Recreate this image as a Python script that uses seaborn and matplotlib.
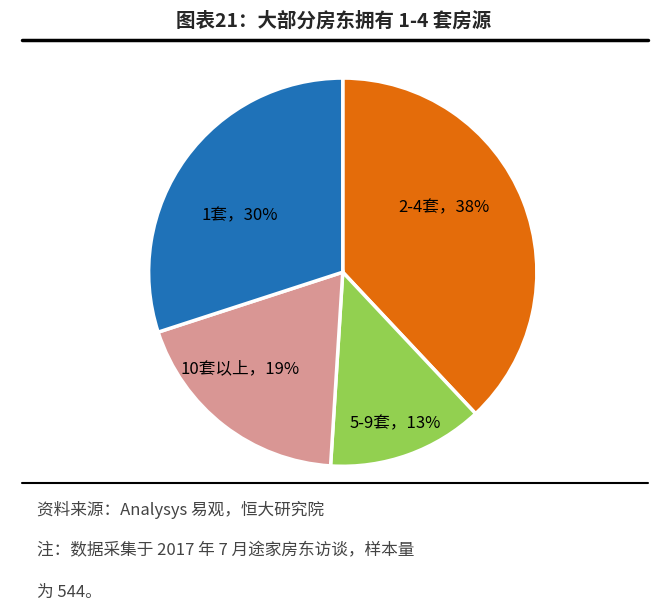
import matplotlib
matplotlib.use("Agg")
import matplotlib.pyplot as plt
import seaborn as sns
from matplotlib.lines import Line2D

# ==========================
# Data
# ==========================
labels = ["2-4套，38%", "5-9套，13%", "10套以上，19%", "1套，30%"]
shares = [38, 13, 19, 30]
colors = ["#E46C0A", "#92D050", "#D99694", "#1F72B8"]

title = "图表21：大部分房东拥有 1-4 套房源"
notes = [
    "资料来源：Analysys 易观，恒大研究院",
    "注：数据采集于 2017 年 7 月途家房东访谈，样本量",
    "为 544。",
]

# label placement inside the wedges (in units of pie radius)
label_pos = [(0.52, 0.33), (0.27, -0.78), (-0.53, -0.50), (-0.53, 0.29)]

sns.set_theme(style="white")
plt.rcParams["font.family"] = ["Noto Sans CJK SC", "DejaVu Sans"]

fig = plt.figure(figsize=(6.68, 6.13), dpi=100)
fig.patch.set_facecolor("white")

ax = fig.add_axes([0.513 - 0.2934, 0.556 - 0.32, 0.587, 0.64])
wedges, texts = ax.pie(
    shares,
    labels=labels,
    colors=colors,
    startangle=90,
    counterclock=False,
    labeldistance=0.55,
    wedgeprops=dict(edgecolor="white", linewidth=2.5),
    textprops=dict(fontsize=12, color="black", ha="center", va="center"),
)
for t, p in zip(texts, label_pos):
    t.set_position(p)
    t.set_ha("center")
ax.set_xlim(-1.01, 1.01)
ax.set_ylim(-1.01, 1.01)
ax.set_aspect("equal")

# title and rules
fig.text(0.5, 0.965, title, ha="center", va="center", fontsize=14, fontweight="bold")
fig.add_artist(Line2D([0.033, 0.97], [0.935, 0.935], color="black", lw=2.5))
fig.add_artist(Line2D([0.033, 0.97], [0.212, 0.212], color="black", lw=1.5))

for i, line in enumerate(notes):
    fig.text(0.055, 0.168 - i * 0.067, line, ha="left", va="center",
             fontsize=12, color="#444444", style="italic")

fig.savefig("out.png", dpi=100, facecolor="white")
